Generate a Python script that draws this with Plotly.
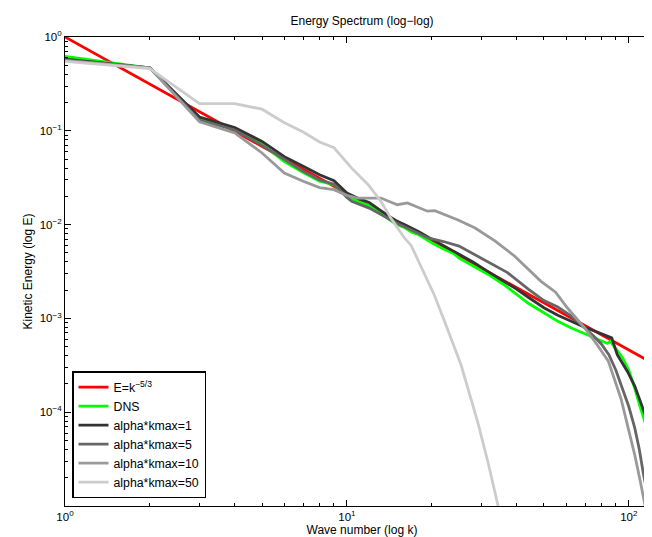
import plotly.graph_objects as go

# ---------------- data ----------------
k_ref = [1, 128]
E_ref = [1.0, 3.05e-4]

k_dns = [1, 2, 3, 4, 5, 6, 7, 8, 9, 10, 11, 12, 13, 14, 15, 16, 17, 18, 20, 22,
         24, 25, 28, 30, 32, 36, 40, 44, 50, 56, 62, 68, 75, 80, 84, 86, 90, 95,
         100, 105, 110, 115, 120, 124, 128]
E_dns = [0.62, 0.467, 0.135, 0.105, 0.072, 0.047, 0.036, 0.029, 0.0266, 0.020,
         0.0175, 0.0160, 0.0135, 0.0115, 0.0100, 0.0093, 0.0083, 0.0078, 0.0064,
         0.0055, 0.0049, 0.0044, 0.0036, 0.0032, 0.0029, 0.0023, 0.0018, 0.00145,
         0.00115, 0.00093, 0.00080, 0.00071, 0.00063, 0.00058, 0.00054, 0.00057,
         0.00048, 0.00038, 0.00028, 0.00018, 0.000111, 7.5e-5, 4.9e-5, 3.4e-5,
         2.1e-5]

k_a1 = [1, 2, 3, 4, 5, 6, 7, 8, 9, 10, 11, 12, 13, 14, 15, 16, 18, 20, 22, 25,
        28, 32, 36, 40, 44, 50, 56, 62, 66, 70, 76, 80, 85, 87, 91, 95, 99, 105,
        110, 115, 120, 124, 126, 128]
E_a1 = [0.58, 0.47, 0.14, 0.108, 0.077, 0.053, 0.042, 0.034, 0.0294, 0.0217,
        0.019, 0.0172, 0.0145, 0.0125, 0.0109, 0.0100, 0.0084, 0.0070, 0.0060,
        0.0049, 0.0040, 0.0031, 0.0025, 0.00205, 0.00168, 0.00130, 0.00108,
        0.00094, 0.00086, 0.00080, 0.00073, 0.00069, 0.00064, 0.00062, 0.00041,
        0.00033, 0.00027, 0.00019, 0.000131, 9.0e-5, 6.3e-5, 4.2e-5, 3.0e-5, 2.2e-5]

k_a5 = [1, 2, 3, 4, 5, 6, 7, 8, 9, 10, 10.4, 12, 15, 19.4, 22, 25, 28, 32, 37,
        44, 50, 56, 62, 68, 75, 80, 85, 90, 94, 100, 105, 109, 113, 117, 121]
E_a5 = [0.57, 0.47, 0.13, 0.102, 0.070, 0.049, 0.037, 0.030, 0.027, 0.0195,
        0.0177, 0.0150, 0.0104, 0.0072, 0.0066, 0.0059, 0.0049, 0.0040, 0.0031,
        0.00205, 0.00155, 0.00132, 0.00108, 0.00085, 0.00065, 0.00053, 0.00041,
        0.00028, 0.000196, 0.000115, 6.8e-5, 4.0e-5, 2.1e-5, 1.3e-5, 8e-6]

k_a10 = [1, 2, 3, 4, 5, 6, 7, 8, 9, 10, 10.9, 13.2, 15.1, 16.4, 19.3, 20.5, 24.8,
         28.5, 33.5, 39.4, 48.7, 55, 60.6, 69.7, 77, 84.6, 93.8, 100, 105, 110,
         114, 117]
E_a10 = [0.56, 0.47, 0.125, 0.095, 0.058, 0.0355, 0.029, 0.0248, 0.0236, 0.0205,
         0.0192, 0.0192, 0.0163, 0.0170, 0.0139, 0.0141, 0.0112, 0.0092, 0.0067,
         0.0046, 0.0025, 0.0019, 0.00129, 0.00079, 0.00053, 0.00035, 0.00014,
         6.5e-5, 3.5e-5, 1.8e-5, 1.0e-5, 7e-6]

k_a50 = [1, 2, 3, 4, 5, 6, 7, 8, 9, 10, 10.4, 11.9, 13.2, 14.3, 16.0, 16.9, 20.4,
         22.2, 25.4, 29.1, 31.6, 34.4, 36]
E_a50 = [0.55, 0.46, 0.195, 0.195, 0.170, 0.122, 0.097, 0.076, 0.066, 0.046,
         0.040, 0.0266, 0.0177, 0.0118, 0.0072, 0.006, 0.00179, 0.00093, 0.00032,
         7.9e-5, 3.0e-5, 1.0e-5, 6e-6]

series_names = ["E=k<sup>−5/3</sup>", "DNS", "alpha*kmax=1", "alpha*kmax=5",
                "alpha*kmax=10", "alpha*kmax=50"]
series_colors = ["#ff0000", "#00ff00", "#333333", "#666666", "#999999", "#cccccc"]

x_major_ticks = [1, 10, 100]
x_major_text = ["10<sup>0</sup>", "10<sup>1</sup>", "10<sup>2</sup>"]
y_major_ticks = [1, 0.1, 0.01, 0.001, 0.0001]
y_major_text = ["10<sup>0</sup>", "10<sup>−1</sup>", "10<sup>−2</sup>",
                "10<sup>−3</sup>", "10<sup>−4</sup>"]
x_minor_ticks = [2, 3, 4, 5, 6, 7, 8, 9, 20, 30, 40, 50, 60, 70, 80, 90]
y_minor_ticks = [m * 10.0 ** d for d in range(-5, 0) for m in range(2, 10)]

# ---------------- figure ----------------
data = [(k_ref, E_ref), (k_dns, E_dns), (k_a1, E_a1), (k_a5, E_a5),
        (k_a10, E_a10), (k_a50, E_a50)]

fig = go.Figure()
for (kx, ey), name, col in zip(data, series_names, series_colors):
    fig.add_trace(go.Scatter(x=kx, y=ey, mode="lines", name=name,
                             line=dict(color=col, width=2.8)))
# empty trace that only attaches the minor-tick overlay axes
fig.add_trace(go.Scatter(x=[], y=[], xaxis="x2", yaxis="y2", showlegend=False,
                         hoverinfo="skip"))

font = "Liberation Sans, Arial, Helvetica, sans-serif"
XR = [0, 2.10721]
YR = [-5, 0]
fig.update_layout(
    width=652, height=537,
    margin=dict(l=57, r=1, t=29, b=39),
    paper_bgcolor="white", plot_bgcolor="white",
    font=dict(family=font, size=11.5, color="black"),
    title=dict(text="Energy Spectrum (log−log)", x=0.543, xanchor="center",
               y=0.976, yanchor="middle", font=dict(size=12)),
    showlegend=True,
    legend=dict(x=0.0118, y=0.017, xanchor="left", yanchor="bottom",
                bgcolor="white", bordercolor="black", borderwidth=1.5,
                font=dict(size=12.3), tracegroupgap=0, itemwidth=30),
    xaxis=dict(type="log", range=XR, showline=True, linecolor="black",
               linewidth=1, mirror="allticks", ticks="inside", ticklen=6,
               tickwidth=1, tickcolor="black", tickmode="array",
               tickvals=x_major_ticks, ticktext=x_major_text, showgrid=False,
               zeroline=False,
               title=dict(text="Wave number (log k)", standoff=1,
                          font=dict(size=12))),
    yaxis=dict(type="log", range=YR, showline=True, linecolor="black",
               linewidth=1, mirror="allticks", ticks="inside", ticklen=6,
               tickwidth=1, tickcolor="black", tickmode="array",
               tickvals=y_major_ticks, ticktext=y_major_text, showgrid=False,
               zeroline=False,
               title=dict(text="Kinetic Energy (log E)", standoff=4,
                          font=dict(size=12))),
    xaxis2=dict(type="log", range=XR, overlaying="x", anchor="y", side="bottom",
                showline=False, mirror="allticks", ticks="inside", ticklen=3,
                tickwidth=1, tickcolor="black", tickmode="array",
                tickvals=x_minor_ticks, showticklabels=False, showgrid=False,
                zeroline=False),
    yaxis2=dict(type="log", range=YR, overlaying="y", anchor="x", side="left",
                showline=False, mirror="allticks", ticks="inside", ticklen=3,
                tickwidth=1, tickcolor="black", tickmode="array",
                tickvals=y_minor_ticks, showticklabels=False, showgrid=False,
                zeroline=False),
)

fig.write_html("out.html")
